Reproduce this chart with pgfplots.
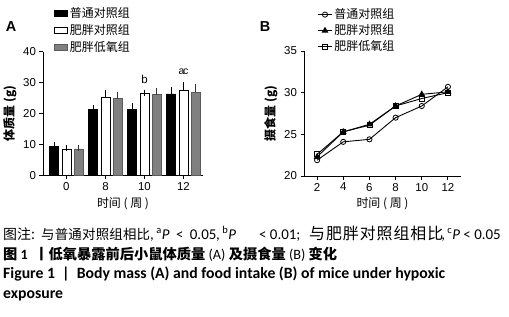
\documentclass[border=0pt]{standalone}
\usepackage{fontspec}
\setmainfont{Liberation Sans}
\newfontfamily\cjk{Noto Sans CJK SC}
\newfontfamily\calib{Carlito}
\usepackage{pgfplots}
\usepackage{pgfplotstable}
\pgfplotsset{compat=1.18}
\newcommand{\fs}[1]{\fontsize{#1}{#1}\selectfont}

\pgfplotstableread{
x y e
0 9.5 0.4
1 21.3 0.5
2 21.4 0.9
3 26.3 1.3
}\blackdata
\pgfplotstableread{
x y e
0 8.6 0.2
1 25.1 1.6
2 26.4 0.3
3 27.6 1.6
}\whitedata
\pgfplotstableread{
x y e
0 8.6 0.3
1 24.8 1.3
2 26.1 1.3
3 26.9 1.8
}\graydata

\pgfplotstableread{
x y
2 21.9
4 24.1
6 24.4
8 27.0
10 28.4
12 30.7
}\normaldata
\pgfplotstableread{
x y
2 22.3
4 25.3
6 26.2
8 28.4
10 29.8
12 30.1
}\obesedata
\pgfplotstableread{
x y
2 22.6
4 25.3
6 26.1
8 28.4
10 29.3
12 30.0
}\hypoxiadata

\definecolor{bargray}{HTML}{808080}

\begin{document}
\begin{tikzpicture}
\path[use as bounding box] (0,0) rectangle (509bp,-317bp);

\pgfplotsset{
  common/.style={
    scale only axis,
    axis x line=bottom, axis y line=left,
    axis line style={-, line width=1pt},
    tick align=outside, major tick length=3.5bp,
    tick style={black, line width=1pt},
    tick label style={font=\fs{11.5}},
    /pgf/number format/assume math mode=true,
    xlabel style={font=\cjk\fs{12}},
    ylabel style={font=\cjk\bfseries\fs{12}},
    legend cell align=left,
  }
}

% Panel A
\begin{axis}[common,
  width=160bp, height=124bp,
  at={(43bp,-175.5bp)}, anchor=south west,
  xmin=-0.6, xmax=3.5, ymin=0, ymax=40,
  xtick={0,1,2,3}, xticklabels={0,8,10,12},
  ytick={0,10,20,30,40},
  ybar=3.3bp, bar width=9bp,
  xlabel={时间 ( 周 )}, ylabel={体质量 (g)},
  legend style={at={(0.07,1.37)}, anchor=north west, draw=none, fill=none,
    font=\cjk\fs{12}, row sep=1.5bp, inner sep=0pt},
]
\addplot[fill=black, draw=black, line width=0.6pt,
  legend image code/.code={\draw[fill=black, draw=black] (0bp,-3bp) rectangle (13bp,3bp);},
  error bars/.cd, y dir=plus, y explicit,
  error bar style={black, line width=0.9pt},
  error mark options={black, line width=0.9pt, mark size=3bp}]
  table[x=x, y=y, y error=e] \blackdata;
\addplot[fill=white, draw=black, line width=0.6pt,
  legend image code/.code={\draw[fill=white, draw=black, line width=0.6pt] (0bp,-3bp) rectangle (13bp,3bp);},
  error bars/.cd, y dir=plus, y explicit,
  error bar style={black, line width=0.9pt},
  error mark options={black, line width=0.9pt, mark size=3bp}]
  table[x=x, y=y, y error=e] \whitedata;
\addplot[fill=bargray, draw=bargray!70!black, line width=0.6pt,
  legend image code/.code={\draw[fill=bargray, draw=bargray!70!black, line width=0.6pt] (0bp,-3bp) rectangle (13bp,3bp);},
  error bars/.cd, y dir=plus, y explicit,
  error bar style={black!80, line width=0.9pt},
  error mark options={black!80, line width=0.9pt, mark size=3bp}]
  table[x=x, y=y, y error=e] \graydata;
\legend{普通对照组, 肥胖对照组, 肥胖低氧组}
\node[font=\fs{11.5}] at (axis cs:2,31) {b};
\node[font=\fs{10.5}] at (axis cs:3,33.4) {a\kern-1.5pt c};
\end{axis}

% Panel B
\begin{axis}[common,
  width=157bp, height=125bp,
  at={(304bp,-176bp)}, anchor=south west,
  xmin=1, xmax=13, ymin=20, ymax=35,
  xtick={2,4,6,8,10,12}, ytick={20,25,30,35},
  xlabel={时间 ( 周 )}, ylabel={摄食量 (g)},
  legend style={at={(0.085,1.355)}, anchor=north west, draw=none, fill=none,
    font=\cjk\fs{12}, row sep=0.5bp, inner sep=0pt},
  legend image code/.code={\draw[mark repeat=2, mark phase=2, #1] plot coordinates {(0bp,0bp) (7bp,0bp) (14bp,0bp)};},
]
\addplot[black, line width=0.9pt, mark=o, mark size=2.6bp, mark options={fill=white, line width=0.8pt}]
  table[x=x, y=y] \normaldata;
\addplot[black, line width=0.9pt, mark=triangle*, mark size=3bp, mark options={fill=black}]
  table[x=x, y=y] \obesedata;
\addplot[black, line width=0.9pt, mark=square, mark size=2.5bp, mark options={fill=white, line width=0.8pt}]
  table[x=x, y=y] \hypoxiadata;
\legend{普通对照组, 肥胖对照组, 肥胖低氧组}
\end{axis}

\node[font=\bfseries\fs{14.5}] at (11bp,-27bp) {A};
\node[font=\bfseries\fs{14.5}] at (265bp,-27bp) {B};

% Caption line 1 (pieces)
\begin{scope}[every node/.style={anchor=base west, inner sep=0pt}]
\node[font=\cjk\fs{14}] at (3bp,-239bp) {图注:};
\node[font=\cjk\fs{13.5}] at (41bp,-239bp) {\makebox[109bp][s]{与\hfill 普\hfill 通\hfill 对\hfill 照\hfill 组\hfill 相\hfill 比}};
\node[font=\calib\fs{15}] at (150bp,-239bp) {,\,\makebox[60bp][s]{\textsuperscript{a}\textit{P}\hspace{\fill}<\hspace{\fill}0.05}};
\node[font=\calib\fs{15}] at (216bp,-239bp) {,\,\makebox[78bp][s]{\textsuperscript{b}\textit{P}\hspace{\fill}< 0.01;}};
\node[font=\cjk\fs{16}] at (309bp,-239bp) {\makebox[134bp][s]{与\hfill 肥\hfill 胖\hfill 对\hfill 照\hfill 组\hfill 相\hfill 比}};
\node[anchor=base east, font=\calib\fs{15}] at (501bp,-239bp) {,\,\textsuperscript{c}\textit{P} < 0.05};
\end{scope}

\node[anchor=base west, inner sep=0pt, font=\fs{14.3}] at (3bp,-259bp)
  {{\cjk\bfseries 图 }{\calib\bfseries 1}{\cjk\bfseries\ \ 丨低氧暴露前后小鼠体质量 }{\calib (A)}{\cjk\bfseries\ 及摄食量 }{\calib (B)}{\cjk\bfseries\ 变化}};
\node[anchor=base west, inner sep=0pt, font=\calib\bfseries\fs{15.8}] at (3bp,-278bp)
  {Figure 1 \ \textbar\ \ Body mass (A) and food intake (B) of mice under hypoxic};
\node[anchor=base west, inner sep=0pt, font=\calib\bfseries\fs{15.8}] at (3bp,-298bp)
  {exposure};
\end{tikzpicture}
\end{document}
